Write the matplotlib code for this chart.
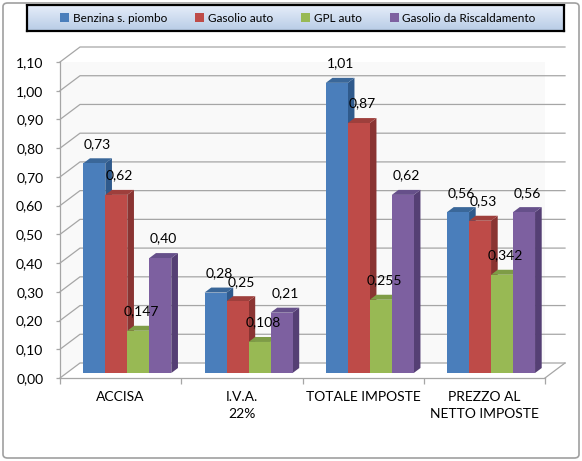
import matplotlib
matplotlib.use("Agg")
import matplotlib.pyplot as plt
import numpy as np
from matplotlib.patches import Polygon, Patch, FancyBboxPatch
from matplotlib.ticker import FuncFormatter, FixedLocator

plt.rcParams['font.family'] = ['Lato', 'DejaVu Sans']

# data
categories = ["ACCISA", "I.V.A.\n22%", "TOTALE IMPOSTE", "PREZZO AL\nNETTO IMPOSTE"]
series_names = ["Benzina s. piombo", "Gasolio auto", "GPL auto", "Gasolio da Riscaldamento"]
benzina = [0.73, 0.28, 1.01, 0.56]
gasolio = [0.62, 0.25, 0.87, 0.53]
gpl = [0.147, 0.108, 0.255, 0.342]
riscaldamento = [0.40, 0.21, 0.62, 0.56]
yticks = [round(0.1 * k, 2) for k in range(12)]

front_cols = ['#4A7EBB', '#BE4B48', '#98B954', '#7D60A0']
side_cols = ['#2F5A8C', '#8A3432', '#6E8B3A', '#553F74']
top_cols = ['#3A6799', '#9E3F3C', '#7E9C46', '#66508A']

W, H = 582, 461
fig = plt.figure(figsize=(W / 100, H / 100), dpi=100)

# plot front plane: x 60..545 px, y 378..62 px
ax = fig.add_axes([60 / W, (H - 378) / H, 485 / W, 316 / H])
ax.set_xlim(0, 4)
ax.set_ylim(0, 1.1)
ax.set_facecolor('none')

DX = 20 / 121.25   # depth offset in category units
DY = 15 / 287.3    # depth offset in value units
grid_c = '#A6A6A6'

# walls and floor
wall = '#F9F9F9'
ax.add_patch(Polygon([(DX, DY), (4 + DX, DY), (4 + DX, 1.1 + DY), (DX, 1.1 + DY)],
                     closed=True, facecolor=wall, edgecolor='none', zorder=0))
ax.add_patch(Polygon([(0, 0), (DX, DY), (DX, 1.1 + DY), (0, 1.1)],
                     closed=True, facecolor=wall, edgecolor='none', zorder=0))
for v in yticks:
    ax.plot([0, DX, 4 + DX], [v, v + DY, v + DY], color=grid_c, lw=0.9,
            clip_on=False, zorder=1)
ax.plot([4, 4 + DX], [0, DY], color=grid_c, lw=0.9, clip_on=False, zorder=1)

# bars
all_series = [benzina, gasolio, gpl, riscaldamento]
bw = 22 / 121.25
t0 = 1 / 3
for i in range(len(categories)):
    for j, vals in enumerate(all_series):
        v = vals[i]
        x0 = i + 0.5 - 2 * bw + j * bw + DX * t0
        y0 = DY * t0
        x1 = x0 + bw
        y1 = y0 + v
        ddx, ddy = DX / 3, DY / 3
        side = Polygon([(x1, y0), (x1 + ddx, y0 + ddy), (x1 + ddx, y1 + ddy), (x1, y1)],
                       closed=True, facecolor=side_cols[j], edgecolor='none',
                       clip_on=False, zorder=3)
        top = Polygon([(x0, y1), (x1, y1), (x1 + ddx, y1 + ddy), (x0 + ddx, y1 + ddy)],
                      closed=True, facecolor=top_cols[j], edgecolor='none',
                      clip_on=False, zorder=3)
        front = Polygon([(x0, y0), (x1, y0), (x1, y1), (x0, y1)],
                        closed=True, facecolor=front_cols[j], edgecolor='none',
                        clip_on=False, zorder=3)
        for p in (side, top, front):
            ax.add_patch(p)
        lab = f"{v:.2f}" if round(v, 2) == v else f"{v:.3f}"
        ax.annotate(lab.replace('.', ','), xy=(x0 + bw / 2 + DX / 6, y1),
                    xytext=(0, 14), textcoords='offset points',
                    ha='center', va='center', fontsize=10, zorder=5,
                    annotation_clip=False)

# axes styling
for s in ['top', 'right']:
    ax.spines[s].set_visible(False)
for s in ['left', 'bottom']:
    ax.spines[s].set_color(grid_c)
    ax.spines[s].set_linewidth(0.9)
ax.set_yticks(yticks)
ax.yaxis.set_major_formatter(FuncFormatter(lambda v, p: f"{v:.2f}".replace('.', ',')))
ax.tick_params(axis='y', length=3, width=0.9, color=grid_c, pad=9, labelsize=10)
ax.xaxis.set_major_locator(FixedLocator([0, 1, 2, 3, 4]))
ax.xaxis.set_minor_locator(FixedLocator([0.5, 1.5, 2.5, 3.5]))
ax.set_xticklabels([], minor=False)
ax.set_xticklabels(categories, minor=True)
for t in ax.get_xticklabels(minor=True):
    t.set_linespacing(1.55)
ax.tick_params(axis='x', which='major', length=4, width=0.9, color=grid_c)
ax.tick_params(axis='x', which='minor', length=0, pad=9, labelsize=10)

# legend background with gradient
lax = fig.add_axes([27 / W, (H - 31) / H, 537 / W, 26 / H])
grad = np.linspace(0, 1, 50).reshape(-1, 1)
c_top = np.array([0.90, 0.93, 0.98])
c_bot = np.array([0.72, 0.80, 0.90])
img = c_top[None, None, :] * (1 - grad[:, :, None]) + c_bot[None, None, :] * grad[:, :, None]
lax.imshow(img, aspect='auto', extent=[0, 1, 0, 1], origin='upper')
lax.set_xticks([])
lax.set_yticks([])
for s in lax.spines.values():
    s.set_linewidth(1.6)
    s.set_color('black')

handles = [Patch(facecolor=c, edgecolor='none') for c in front_cols]
fig.legend(handles, series_names, ncol=4, loc='center',
           bbox_to_anchor=(298 / W, 1 - 18 / H), frameon=False, fontsize=8.5,
           handlelength=0.75, handleheight=0.75, handletextpad=0.3,
           columnspacing=2.4, borderpad=0)

# outer rounded border
fig.patches.append(FancyBboxPatch((3 / W, 3 / H), 1 - 6 / W, 1 - 6 / H,
                                  boxstyle='round,pad=0,rounding_size=0.008',
                                  transform=fig.transFigure, facecolor='none',
                                  edgecolor='#A0A0A0', lw=1.2))

fig.savefig('out.png', dpi=100, facecolor='white')
